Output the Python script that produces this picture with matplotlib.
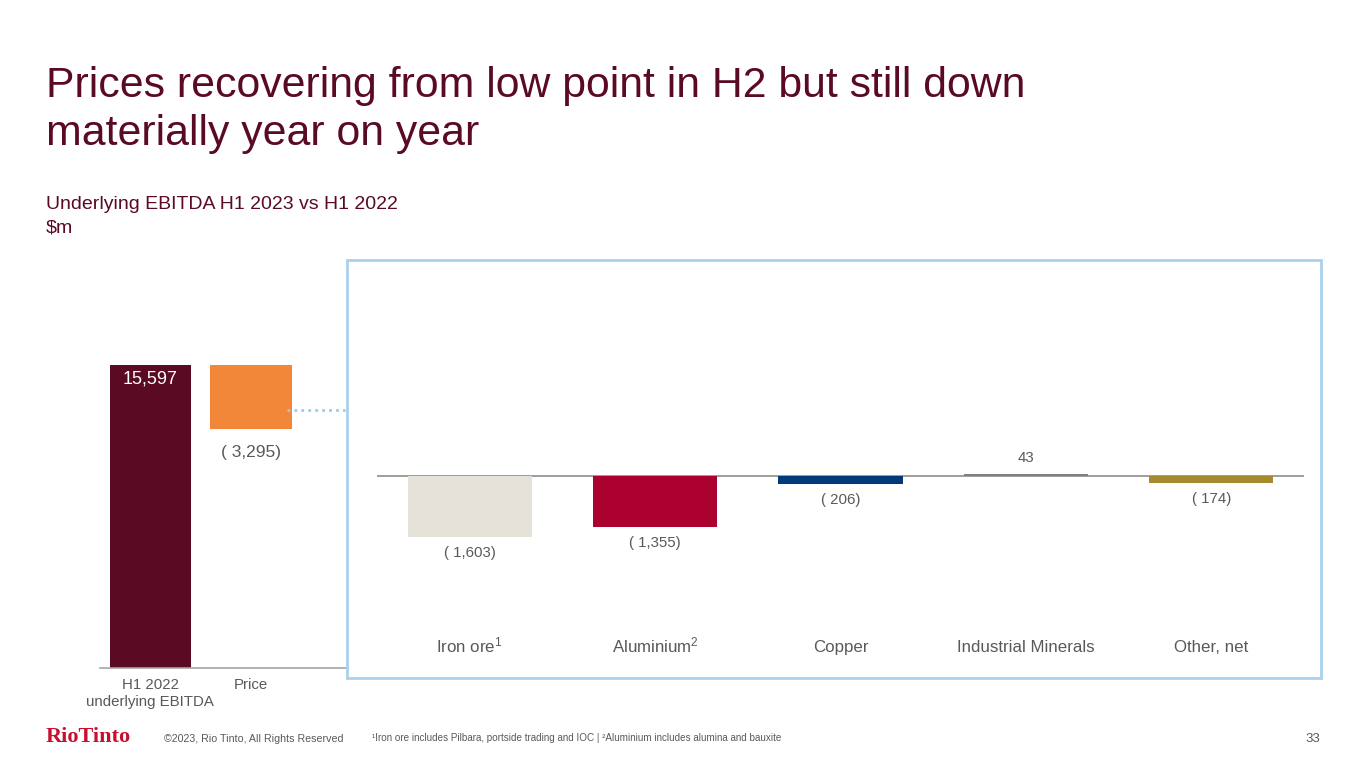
import matplotlib
matplotlib.use("Agg")
import matplotlib.pyplot as plt
from matplotlib.patches import Rectangle
from matplotlib.lines import Line2D
from matplotlib.transforms import blended_transform_factory

plt.rcParams["font.family"] = ["Liberation Sans", "DejaVu Sans"]
plt.rcParams["mathtext.fontset"] = "custom"
plt.rcParams["mathtext.rm"] = "Liberation Sans"
plt.rcParams["mathtext.it"] = "Liberation Sans:italic"
plt.rcParams["mathtext.bf"] = "Liberation Sans:bold"

# ---- data ----
left_labels = ["H1 2022\nunderlying EBITDA", "Price"]
start_value = 15597
price_change = -3295

right_labels = ["Iron ore$^1$", "Aluminium$^2$", "Copper", "Industrial Minerals", "Other, net"]
right_values = [-1603, -1355, -206, 43, -174]
right_colors = ["#e5e2da", "#ac0030", "#003a7a", "#7f7f7f", "#a58a2e"]

MAROON = "#5a0a22"
ORANGE = "#f2873a"
GREY_TXT = "#595959"
BOX_BLUE = "#a9d1ec"

W, H = 1365, 768


def fx(px):
    return px / W


def fy(py):
    return 1 - py / H


def fmt(v):
    return f"( {abs(v):,})" if v < 0 else f"{v:,}"


fig = plt.figure(figsize=(W / 100, H / 100), dpi=100)
fig.patch.set_facecolor("white")

# ---- titles ----
fig.text(fx(46), fy(97), "Prices recovering from low point in H2 but still down",
         fontsize=30.8, color=MAROON, va="baseline", ha="left")
fig.text(fx(46), fy(145), "materially year on year",
         fontsize=30.8, color=MAROON, va="baseline", ha="left")
fig.text(fx(46), fy(209), "Underlying EBITDA H1 2023 vs H1 2022",
         fontsize=14, color=MAROON, va="baseline", ha="left")
fig.text(fx(46), fy(233), r"\$m",
         fontsize=14, color=MAROON, va="baseline", ha="left")

# ---- left waterfall ----
lscale = 303 / start_value  # px per unit
axl = fig.add_axes([fx(100), fy(668), fx(248), 368 / H])
axl.set_xlim(-0.5, 1.96)
axl.set_ylim(0, 368 / lscale)
axl.bar(0, start_value, width=0.81, color=MAROON)
axl.bar(1, price_change, bottom=start_value, width=0.81, color=ORANGE)
axl.text(0, start_value - 14 / lscale, fmt(start_value), color="white",
         fontsize=13, ha="center", va="center")
axl.text(1, start_value + price_change - 23 / lscale, fmt(price_change), color=GREY_TXT,
         fontsize=12.5, ha="center", va="center")
for s in ["top", "right", "left"]:
    axl.spines[s].set_visible(False)
axl.spines["bottom"].set_color("#a6a6a6")
axl.spines["bottom"].set_linewidth(1.2)
axl.set_yticks([])
axl.set_xticks([0, 1])
axl.set_xticklabels(left_labels, fontsize=10.8, color=GREY_TXT, linespacing=1.3)
axl.tick_params(axis="x", length=0, pad=7)
axl.patch.set_alpha(0)

# dotted connector to panel
fig.add_artist(Line2D([fx(287), fx(345)], [fy(410), fy(410)], color="#9ccbea",
                      linestyle=(0, (1, 1.5)), linewidth=2))

# ---- right breakdown panel ----
fig.add_artist(Rectangle((fx(347), fy(678)), fx(974), 418 / H, fill=False,
                         edgecolor=BOX_BLUE, linewidth=2))

rscale = 0.038  # px per unit
top_px, bot_px, zero_px = 280, 640, 476
axr = fig.add_axes([fx(377), fy(bot_px), fx(927), (bot_px - top_px) / H])
axr.set_xlim(-0.5, 4.5)
axr.set_ylim(-(bot_px - zero_px) / rscale, (zero_px - top_px) / rscale)
xs = list(range(len(right_values)))
axr.bar(xs, right_values, width=0.67, color=right_colors)
axr.axhline(0, color="#8c8c8c", linewidth=1.2, zorder=0)
for x, v in zip(xs, right_values):
    if v < 0:
        axr.text(x, v - 16 / rscale, fmt(v), color=GREY_TXT, fontsize=10.8,
                 ha="center", va="center")
    else:
        axr.text(x, v + 16 / rscale, fmt(v), color=GREY_TXT, fontsize=10.8,
                 ha="center", va="center")
trans = blended_transform_factory(axr.transData, fig.transFigure)
for x, lab in zip(xs, right_labels):
    axr.text(x, fy(652), lab, transform=trans, color=GREY_TXT, fontsize=12.2,
             ha="center", va="baseline")
axr.axis("off")

# ---- footer ----
fig.text(fx(46), fy(742), "RioTinto", fontfamily="Liberation Serif", fontsize=16,
         fontweight="bold", color="#c8102e", ha="left", va="baseline")
fig.text(fx(164), fy(742), "\u00a92023, Rio Tinto, All Rights Reserved", fontsize=7.7,
         color=GREY_TXT, ha="left", va="baseline")
fig.text(fx(372), fy(741),
         "\u00b9Iron ore includes Pilbara, portside trading and IOC | \u00b2Aluminium includes alumina and bauxite",
         fontsize=7.15, color=GREY_TXT, ha="left", va="baseline")
fig.text(fx(1320), fy(742), "33", fontsize=9.5, color=GREY_TXT, ha="right", va="baseline")

fig.savefig("out.png", dpi=100, facecolor="white")
